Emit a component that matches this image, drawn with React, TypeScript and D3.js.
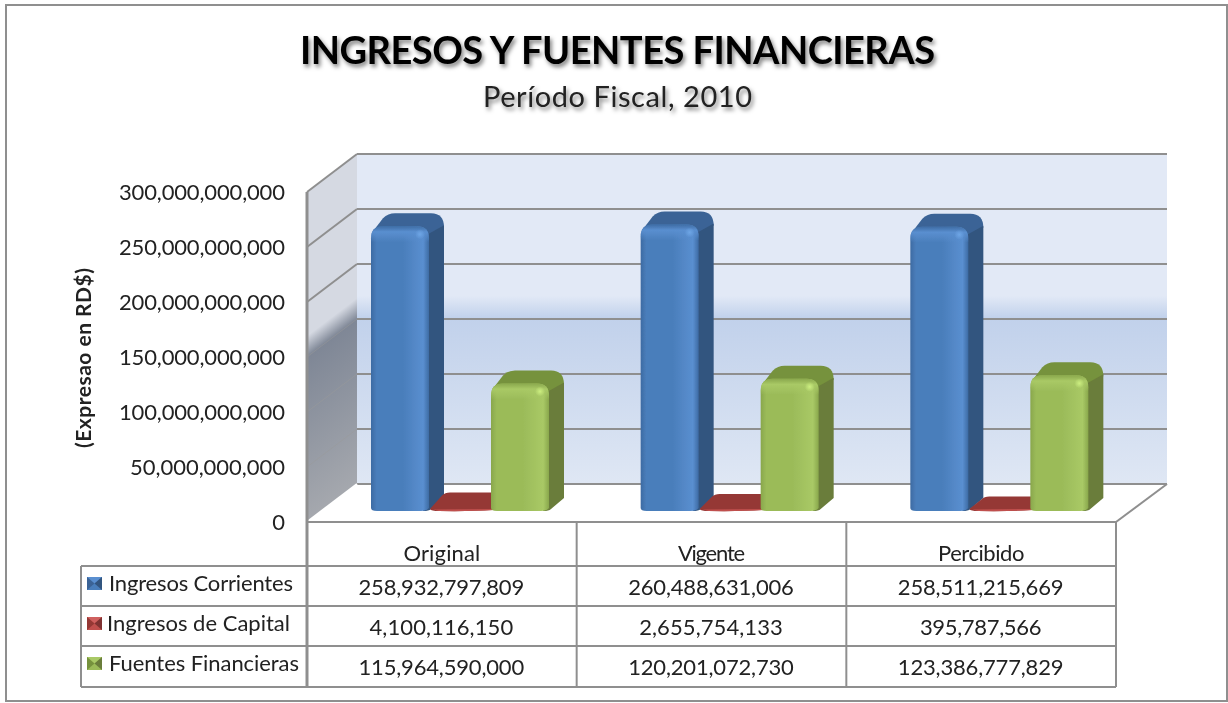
import React from "react";
import * as d3 from "d3";

const categories = ["Original", "Vigente", "Percibido"];
const seriesNames = ["Ingresos Corrientes", "Ingresos de Capital", "Fuentes Financieras"];
const ingresosCorrientes = [258932797809, 260488631006, 258511215669];
const ingresosCapital = [4100116150, 2655754133, 395787566];
const fuentesFinancieras = [115964590000, 120201072730, 123386777829];
const seriesValues = [ingresosCorrientes, ingresosCapital, fuentesFinancieras];
const title = "INGRESOS Y FUENTES FINANCIERAS";
const subtitle = "Período Fiscal, 2010";
const axisTitle = "(Expresao en RD$)";

const palettes = [
  { id: "b", edge: "#3d6ba3", face: "#4a7ebb", light: "#5a8fd0", side: "#33557f", top: "#3b6496", hi: "#6ea6e6" },
  { id: "r", edge: "#a8413f", face: "#c0504d", light: "#cf615e", side: "#7f3331", top: "#953735", hi: "#e08a88" },
  { id: "g", edge: "#89a74c", face: "#9bbb59", light: "#a9c966", side: "#6a7d3a", top: "#76923c", hi: "#ccee80" },
];

const FONT = "Lato, sans-serif";
const INK = "#222";
const LINE = "#8f8f8f";

const W = 1228;
const H = 703;
const plotL = 307;
const plotR = 1116;
const depthX = 50;
const frontBase = 522;
const backBase = 484;
const span = 330;
const barBase = 511;
const barW = 58;
const barDX = 15;
const barDY = 12;

const maxV = 300e9;
const yFront = d3.scaleLinear().domain([0, maxV]).range([frontBase, frontBase - span]);
const yBack = d3.scaleLinear().domain([0, maxV]).range([backBase, backBase - span]);
const yBar = d3.scaleLinear().domain([0, maxV]).range([barBase, barBase - span]);
const xCat = d3.scaleBand<string>().domain(categories).range([plotL, plotR]);
const xSeries = d3.scaleBand<string>().domain(seriesNames).range([64, 244]);
const ticks = yFront.ticks(6);
const fmt = d3.format(",");

const rowY = [566, 606, 646, 687];

function Bar({ x, v, p }: { x: number; v: number; p: (typeof palettes)[number] }) {
  const t = yBar(v);
  const h = barBase - t;
  const w = barW;
  if (h < 20) {
    const tb = barBase - h - 14;
    return (
      <g>
        <path
          d={`M${x - 1},${barBase - 2} L${x + 11},${tb + 3} Q${x + 14},${tb} ${x + 19},${tb} L${x + 62},${tb} L${x + 62},${barBase - 1} Q${x + 40},${barBase + 0.5} ${x + 8},${barBase} Q${x},${barBase} ${x - 1},${barBase - 2}Z`}
          fill={p.top}
        />
        <path d={`M${x + 2},${barBase - 1.6} L${x + 62},${barBase - 2} L${x + 62},${barBase - 1} Q${x + 40},${barBase + 0.5} ${x + 8},${barBase} Z`} fill={p.face} />
      </g>
    );
  }
  const r = 12;
  const tt = t - barDY - 1;
  return (
    <g>
      <path
        d={`M${x + 2},${t + 5} L${x + 12},${tt + 5} Q${x + 17},${tt} ${x + 24},${tt} L${x + w + 2},${tt} Q${x + w + barDX},${tt} ${x + w + barDX},${t + 1} L${x + w},${t + 12} Z`}
        fill={p.top}
      />
      <path
        d={`M${x + w - 3},${t + 9} L${x + w + barDX},${t - 1} L${x + w + barDX},${barBase - barDY - 1} L${x + w + 2},${barBase - 2} Q${x + w},${barBase} ${x + w - 6},${barBase} Z`}
        fill={p.side}
      />
      <path
        d={`M${x},${t + r} Q${x},${t} ${x + r},${t} L${x + w - r},${t} Q${x + w},${t} ${x + w},${t + r} L${x + w},${barBase - 3} Q${x + w - 2},${barBase} ${x + w - 8},${barBase} L${x + 6},${barBase} Q${x},${barBase} ${x},${barBase - 3} Z`}
        fill={`url(#front-${p.id})`}
      />
      <path
        d={`M${x},${t + r} Q${x},${t} ${x + r},${t} L${x + w - r},${t} Q${x + w},${t} ${x + w},${t + r} L${x + w},${t + 16} L${x},${t + 16} Z`}
        fill={`url(#bevel-${p.id})`}
      />
      <circle cx={x + w - 9} cy={t + 8} r={5} fill={`url(#spot-${p.id})`} />
    </g>
  );
}

function Swatch({ x, y, p }: { x: number; y: number; p: (typeof palettes)[number] }) {
  const w = 15;
  const h = 13;
  return (
    <g>
      <rect x={x} y={y} width={w} height={h} fill={p.face} />
      <path d={`M${x},${y} L${x + w},${y} L${x + w / 2},${y + h / 2} Z`} fill={p.light} />
      <path d={`M${x + w},${y} L${x + w},${y + h} L${x + w / 2},${y + h / 2} Z`} fill={p.side} />
      <path d={`M${x},${y} L${x},${y + h} L${x + w / 2},${y + h / 2} Z`} fill={p.top} />
    </g>
  );
}

export default function App() {
  const tableX = [plotL, ...categories.map((c) => (xCat(c) as number) + xCat.bandwidth())];
  return (
    <svg
      width={W}
      height={H}
      viewBox={`0 0 ${W} ${H}`}
      style={{ position: "absolute", left: 0, top: 0, display: "block", background: "#fff" }}
    >
      <defs>
        <filter id="soft" x="0" y="0" width="100%" height="100%" filterUnits="userSpaceOnUse" primitiveUnits="userSpaceOnUse">
          <feGaussianBlur stdDeviation="0.45" />
        </filter>
        <filter id="shadow" x="-5%" y="-30%" width="110%" height="170%">
          <feDropShadow dx="2" dy="3" stdDeviation="2" floodColor="#000" floodOpacity="0.5" />
        </filter>
        <linearGradient id="backWall" x1="0" y1="0" x2="0" y2="1">
          <stop offset="0" stopColor="#e2e9f6" />
          <stop offset="0.43" stopColor="#e2e9f6" />
          <stop offset="0.497" stopColor="#c1d1eb" />
          <stop offset="1" stopColor="#dfe7f4" />
        </linearGradient>
        <linearGradient id="leftWall" gradientUnits="userSpaceOnUse" x1="357" y1="298" x2="446.6" y2="416">
          <stop offset="0" stopColor="#d5d9e2" />
          <stop offset="0.113" stopColor="#7f8796" />
          <stop offset="1" stopColor="#a5a8ae" />
        </linearGradient>
        {palettes.map((p) => (
          <React.Fragment key={p.id}>
            <linearGradient id={`front-${p.id}`} x1="0" y1="0" x2="1" y2="0">
              <stop offset="0" stopColor={p.edge} />
              <stop offset="0.1" stopColor={p.face} />
              <stop offset="0.55" stopColor={p.face} />
              <stop offset="0.9" stopColor={p.light} />
              <stop offset="1" stopColor={p.edge} />
            </linearGradient>
            <linearGradient id={`bevel-${p.id}`} x1="0" y1="0" x2="0" y2="1">
              <stop offset="0" stopColor={p.edge} stopOpacity="0.9" />
              <stop offset="0.35" stopColor={p.light} stopOpacity="1" />
              <stop offset="1" stopColor={p.light} stopOpacity="0" />
            </linearGradient>
            <radialGradient id={`spot-${p.id}`}>
              <stop offset="0" stopColor={p.hi} />
              <stop offset="1" stopColor={p.hi} stopOpacity="0" />
            </radialGradient>
          </React.Fragment>
        ))}
      </defs>

      <g filter="url(#soft)">
        <rect x={6} y={5} width={1221} height={696} fill="#fff" stroke={LINE} strokeWidth={2} />

        <text x={617.5} y={64} textAnchor="middle" fontFamily={FONT} fontWeight={700} fontSize={38} fill="#000" textLength={635} lengthAdjust="spacing" filter="url(#shadow)">
          {title}
        </text>
        <text x={617.5} y={107} textAnchor="middle" fontFamily={FONT} fontSize={29} fill={INK} textLength={269} lengthAdjust="spacing" filter="url(#shadow)">
          {subtitle}
        </text>

        <polygon points={`${plotL},${frontBase} ${plotL + depthX},${backBase} 1167,${backBase} ${plotR},${frontBase}`} fill="#fff" />
        <rect x={plotL + depthX} y={backBase - span} width={1167 - plotL - depthX} height={span} fill="url(#backWall)" />
        <polygon
          points={`${plotL},${yFront(maxV)} ${plotL + depthX},${yBack(maxV)} ${plotL + depthX},${backBase} ${plotL},${frontBase}`}
          fill="url(#leftWall)"
        />

        {ticks.map((t) => (
          <g key={t}>
            <line x1={plotL + depthX} x2={1167} y1={yBack(t)} y2={yBack(t)} stroke={LINE} strokeWidth={2} />
            <line
              x1={plotL}
              x2={plotL + depthX}
              y1={yFront(t)}
              y2={yBack(t)}
              stroke={t > 0 && t < 200e9 ? "#9a9a9a" : t === 0 ? "#fff" : LINE}
              strokeOpacity={t > 0 && t < 200e9 ? 0.5 : 1}
              strokeWidth={t > 0 && t < 200e9 ? 1 : 2}
            />
            <text
              x={285}
              y={yFront(t) + 1}
              dy="0.34em"
              textAnchor="end"
              fontFamily={FONT}
              fontSize={22}
              fill={INK}
              textLength={String(fmt(t)).length * 11.07}
              lengthAdjust="spacing"
            >
              {fmt(t)}
            </text>
          </g>
        ))}
        <line x1={plotR} y1={frontBase} x2={1167} y2={backBase} stroke={LINE} strokeWidth={2} />

        <text
          transform="translate(91,358) rotate(-90)"
          textAnchor="middle"
          fontFamily={FONT}
          fontWeight={700}
          fontSize={21}
          fill={INK}
          textLength={180}
          lengthAdjust="spacing"
        >
          {axisTitle}
        </text>

        {categories.map((c, ci) => (
          <g key={c}>
            {seriesNames.map((s, si) => (
              <Bar
                key={s}
                x={(xCat(c) as number) + (xSeries(s) as number)}
                v={seriesValues[si][ci]}
                p={palettes[si]}
              />
            ))}
          </g>
        ))}

        {/* data table */}
        <line x1={plotL} x2={plotL} y1={yFront(maxV)} y2={rowY[3]} stroke={LINE} strokeWidth={3} />
        <line x1={plotL} x2={plotR} y1={frontBase} y2={frontBase} stroke={LINE} strokeWidth={2} />
        {rowY.map((y) => (
          <line key={y} x1={81} x2={plotR} y1={y} y2={y} stroke={LINE} strokeWidth={2} />
        ))}
        <line x1={81} x2={81} y1={rowY[0]} y2={rowY[3]} stroke={LINE} strokeWidth={2} />
        {tableX.slice(1).map((x) => (
          <line key={x} x1={x} x2={x} y1={frontBase} y2={rowY[3]} stroke={LINE} strokeWidth={2} />
        ))}

        {categories.map((c) => (
          <text
            key={c}
            x={(xCat(c) as number) + xCat.bandwidth() / 2}
            y={561}
            textAnchor="middle"
            fontFamily={FONT}
            fontSize={22}
            fill={INK}
            textLength={c.length * 9.6}
            lengthAdjust="spacing"
          >
            {c}
          </text>
        ))}

        {seriesNames.map((s, si) => (
          <g key={s}>
            <Swatch x={87} y={rowY[si] + 11} p={palettes[si]} />
            <text x={si === 1 ? 107 : 109} y={rowY[si] + 25} fontFamily={FONT} fontSize={22} fill={INK} textLength={si === 2 ? 190 : si === 1 ? 183 : 184} lengthAdjust="spacing">
              {s}
            </text>
            {categories.map((c, ci) => (
              <text
                key={c}
                x={(xCat(c) as number) + xCat.bandwidth() / 2 - 0.5}
                y={(rowY[si] + rowY[si + 1]) / 2 + 1}
                dy="0.36em"
                textAnchor="middle"
                fontFamily={FONT}
                fontSize={22}
                fill={INK}
                textLength={fmt(seriesValues[si][ci]).length * 11.05}
                lengthAdjust="spacing"
              >
                {fmt(seriesValues[si][ci])}
              </text>
            ))}
          </g>
        ))}
      </g>
    </svg>
  );
}
